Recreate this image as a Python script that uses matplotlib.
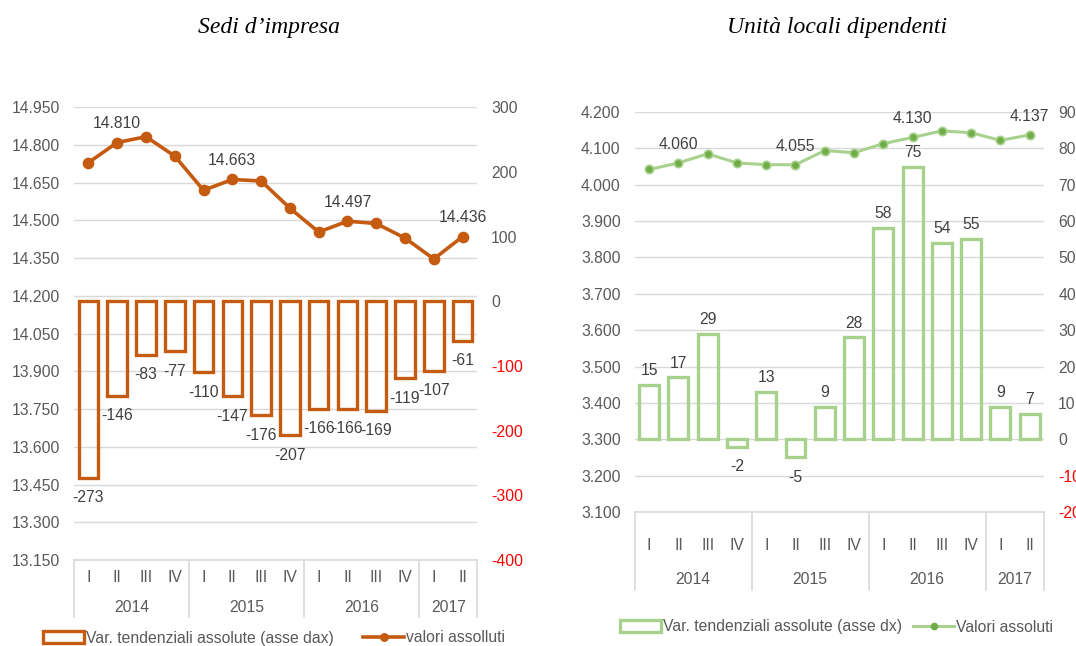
import matplotlib
matplotlib.use('Agg')
import matplotlib.pyplot as plt
from matplotlib.patches import Patch
from matplotlib.lines import Line2D

plt.rcParams['font.family'] = ['Liberation Sans', 'DejaVu Sans']

# ---------------- data ----------------
quarters = ['I', 'II', 'III', 'IV', 'I', 'II', 'III', 'IV', 'I', 'II', 'III', 'IV', 'I', 'II']
years = ['2014', '2015', '2016', '2017']
year_spans = [4, 4, 4, 2]

sedi_values = [14730, 14810, 14833, 14756, 14620, 14663, 14657, 14549,
               14454, 14497, 14488, 14430, 14347, 14436]
sedi_var = [-273, -146, -83, -77, -110, -147, -176, -207, -166, -166, -169, -119, -107, -61]
sedi_labeled = [1, 5, 9, 13]

unita_values = [4042, 4060, 4085, 4060, 4055, 4055, 4094, 4088,
                4113, 4130, 4148, 4143, 4122, 4137]
unita_var = [15, 17, 29, -2, 13, -5, 9, 28, 58, 75, 54, 55, 9, 7]
unita_labeled = [1, 5, 9, 13]

W, H = 1076, 646
GRID = '#d9d9d9'
TICK = '#595959'
LABEL = '#404040'
RED = '#ff0000'
FS = 11.3


def fmt_it(v):
    return f"{v:,}".replace(",", ".")


fig = plt.figure(figsize=(W / 100, H / 100), dpi=100)


def panel(px, left_ticks, right_ticks, line_vals, bar_vals, labeled,
          line_color, marker_face, marker_edge, ms, line_lw,
          bar_color, bar_lw, q_off, y_off, sep_len,
          title, title_x, leg_labels, leg_x, leg_y, colsp):
    x0, x1, ytop, ybot = px
    rect = [x0 / W, 1 - ybot / H, (x1 - x0) / W, (ybot - ytop) / H]
    ax_h = ybot - ytop
    ax = fig.add_axes(rect)
    ax2 = ax.twinx()
    n = len(line_vals)
    xs = list(range(n))

    ax.set_xlim(-0.5, n - 0.5)
    ax.set_ylim(left_ticks[0], left_ticks[-1])
    ax.set_yticks(left_ticks)
    ax.set_yticklabels([fmt_it(t) for t in left_ticks])
    ax.yaxis.grid(True, color=GRID, lw=1.0)
    ax.set_axisbelow(True)
    ax.set_xticks([])
    ax.tick_params(axis='y', length=0, pad=10, labelsize=FS, labelcolor=TICK)
    for s in ['top', 'left', 'right']:
        ax.spines[s].set_visible(False)
    ax.spines['bottom'].set_color(GRID)
    ax.spines['bottom'].set_linewidth(1.2)

    ax2.set_ylim(right_ticks[0], right_ticks[-1])
    ax2.set_yticks(right_ticks)
    ax2.set_yticklabels([str(t) for t in right_ticks])
    ax2.tick_params(axis='y', length=0, pad=10, labelsize=FS)
    for lab, t in zip(ax2.get_yticklabels(), right_ticks):
        lab.set_color(RED if t < 0 else TICK)
    for s in ['top', 'left', 'right', 'bottom']:
        ax2.spines[s].set_visible(False)

    # bars (secondary axis)
    ax2.bar(xs, bar_vals, width=0.68, facecolor='none', edgecolor=bar_color,
            linewidth=bar_lw, zorder=2)
    for i, v in enumerate(bar_vals):
        if v >= 0:
            ax2.annotate(str(v), (i, v), xytext=(0, 5), textcoords='offset points',
                         ha='center', va='bottom', fontsize=FS, color=LABEL)
        else:
            ax2.annotate(str(v), (i, v), xytext=(0, -9), textcoords='offset points',
                         ha='center', va='top', fontsize=FS, color=LABEL)

    # line (primary axis)
    ax.plot(xs, line_vals, color=line_color, lw=line_lw, marker='o', ms=ms,
            mfc=marker_face, mec=marker_edge, mew=1.2, zorder=3)
    for i in labeled:
        ax.annotate(fmt_it(line_vals[i]), (i, line_vals[i]), xytext=(0, 8),
                    textcoords='offset points', ha='center', va='bottom',
                    fontsize=FS, color=LABEL)

    # multi-level category axis
    tr = ax.get_xaxis_transform()
    for i, q in enumerate(quarters):
        ax.text(i, -q_off / ax_h, q, transform=tr, ha='center', va='center',
                fontsize=FS, color=TICK)
    start = -0.5
    bounds = [start]
    for yr, span in zip(years, year_spans):
        mid = start + span / 2
        ax.text(mid, -y_off / ax_h, yr, transform=tr, ha='center', va='center',
                fontsize=FS, color=TICK)
        start += span
        bounds.append(start)
    for b in bounds:
        ax.add_line(Line2D([b, b], [0, -sep_len / ax_h], transform=tr,
                           color=GRID, lw=1.2, clip_on=False))

    fig.text(title_x / W, 1 - 27 / H, title, family=['Liberation Serif', 'DejaVu Serif'],
             style='italic', fontsize=17, ha='center', va='center', color='black')

    handles = [Patch(facecolor='white', edgecolor=bar_color, linewidth=bar_lw),
               Line2D([], [], color=line_color, lw=line_lw, marker='o',
                      ms=ms * 0.75, mfc=marker_face, mec=marker_face)]
    fig.legend(handles, leg_labels, loc='center left',
               bbox_to_anchor=(leg_x / W, 1 - leg_y / H), ncol=2, frameon=False,
               borderpad=0, borderaxespad=0, handlelength=2.6, handleheight=0.75,
               handletextpad=0.12, columnspacing=colsp, fontsize=FS,
               labelcolor=TICK)
    return ax, ax2


ORANGE = '#c55a11'
panel((74, 477, 107.3, 560),
      [13150 + 150 * k for k in range(13)],
      [-400, -300, -200, -100, 0, 100, 200, 300],
      sedi_values, sedi_var, sedi_labeled,
      ORANGE, ORANGE, ORANGE, 7.2, 2.6,
      ORANGE, 2.4, 18, 47, 57,
      'Sedi d\u2019impresa', 269,
      ['Var. tendenziali assolute (asse dax)', 'valori assolluti'], 43, 638, 1.9)

panel((634.5, 1044.3, 112, 512),
      [3100 + 100 * k for k in range(12)],
      [-20, -10, 0, 10, 20, 30, 40, 50, 60, 70, 80, 90],
      unita_values, unita_var, unita_labeled,
      '#a9d18e', '#70ad47', '#a9d18e', 6.0, 2.2,
      '#a9d18e', 2.4, 34, 68, 78,
      'Unit\u00e0 locali dipendenti', 837,
      ['Var. tendenziali assolute (asse dx)', 'Valori assoluti'], 620, 627, 0.75)

fig.savefig('out.png', dpi=100)
